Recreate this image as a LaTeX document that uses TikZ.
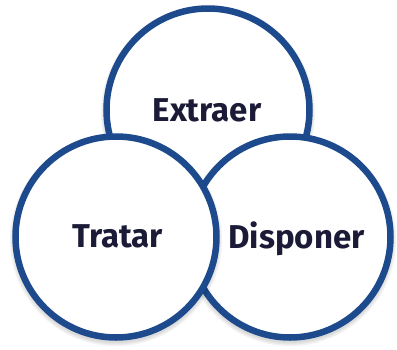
\documentclass[tikz,border=0pt]{standalone}
\usepackage{fontspec}
\setmainfont{Fira Sans}
\definecolor{ringblue}{HTML}{1D4A8C}
\definecolor{inknavy}{HTML}{1B1B38}
\tikzset{
  ring/.style={circle, draw=ringblue, line width=6.5pt, fill=white, minimum size=201pt, inner sep=0pt},
  shade ring/.style={circle, fill=black, fill opacity=0.05, draw=none, minimum size=#1, inner sep=0pt},
  lbl/.style={font=\fontsize{33}{36}\selectfont\bfseries, text=inknavy, inner sep=0pt, anchor=base}
}
\begin{document}
\begin{tikzpicture}[x=1pt,y=-1pt]
\useasboundingbox (0,0) rectangle (397,349);
% top circle
\foreach \s in {214,211,208} {\node[shade ring=\s pt] at (208,113) {};}
\node[ring, minimum size=203pt] (top) at (208,110) {};
% right circle
\foreach \s in {212,209,206} {\node[shade ring=\s pt] at (290,240) {};}
\node[ring] (right) at (290,237) {};
% left circle
\foreach \s in {212,209,206} {\node[shade ring=\s pt] at (116,240) {};}
\node[ring] (left) at (116,237) {};
% labels
\node[lbl] (extraer) at (207,121) {Extraer};
\node[lbl] (tratar) at (117.5,247) {Tratar};
\node[lbl] (disponer) at (296.5,248) {Disponer};
\end{tikzpicture}
\end{document}
